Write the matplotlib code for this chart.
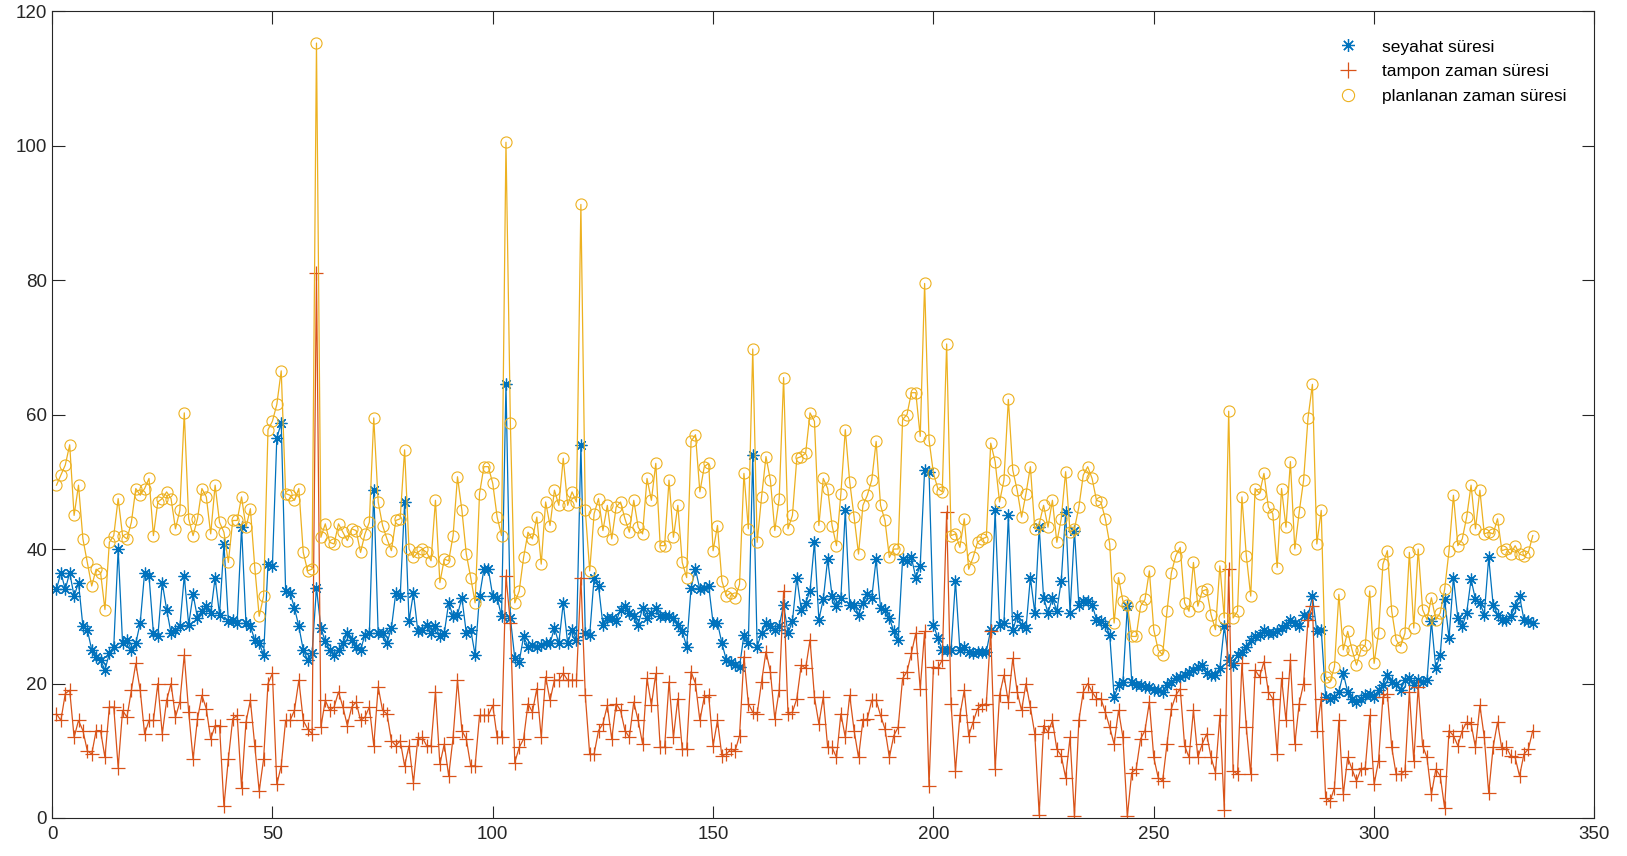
"""
Travel time, buffer time and planned time per trip, drawn as three marked lines
"""
# IMPORTS
import numpy as np
import matplotlib
matplotlib.use("Agg")
import matplotlib.pyplot as plt


# VARIABLES
series_labels = ["seyahat süresi", "tampon zaman süresi", "planlanan zaman süresi"]

# seyahat süresi (travel time), trips 1..336
travel_time = [
    34, 36.5, 34, 36.5, 33, 35, 28.5, 28, 25, 24, 23.5, 22, 24.5, 25.5, 40, 26, 26.5, 25, 26, 29,
    36.5, 36, 27.5, 27, 35, 31, 27.5, 28,
    28.5, 36, 28.75, 33.25, 29.75, 30.75, 31.5, 30.5, 35.75, 30.25, 40.75, 29.25, 29.5, 29, 43.25,
    29, 28.5, 26.5, 26, 24.25, 37.75, 37.5, 56.5, 58.75, 33.75, 33.5, 31.25, 28.5,
    25, 23.5, 24.5, 34.25, 28.25, 26.25, 25, 24.25, 25, 26, 27.5, 26.5, 25.5, 25, 27.25, 27.5,
    48.75, 27.5, 27.5, 26, 28.25, 33.5, 33, 47, 29.25, 33.5, 27.75, 28,
    28.75, 27.5, 28.5, 27, 27.5, 32, 30, 30.25, 32.75, 27.5, 28, 24.25, 33, 37, 37, 33, 32.75, 30,
    64.5, 29.75, 23.75, 23.25, 27, 25.5, 25.75, 25.5, 25.75, 26,
    26, 28.25, 26, 32, 26, 28, 26.5, 55.5, 27.5, 27.25, 35.75, 34.5, 28.75, 29.75, 29.75, 29.25,
    31, 31.5, 30.5, 30, 28.75, 31.25, 29.75, 30.5, 31.25, 30, 30, 30,
    29.75, 28.75, 27.75, 25.5, 34.25, 37, 34, 34.25, 34.5, 29, 29, 26, 23.5, 23.25, 22.75, 22.5,
    27.25, 26, 54, 25.5, 27.5, 29, 28.5, 28, 28.5, 31.75, 27.5, 29.25, 35.75,
    31, 32, 33.75, 41, 29.5, 32.5, 38.5, 33, 31.5, 32.75, 45.75, 31.75, 31.75, 30.25, 32, 33.25,
    32.75, 38.5, 31.25, 31, 29.75, 27.75, 26.5, 38.5, 38.25, 38.75, 35.75, 37.5,
    51.75, 51.5, 28.75, 26.75, 25, 25, 25, 35.25, 25, 25.5, 24.75, 24.5, 24.75, 24.75, 24.75, 28,
    45.75, 28.75, 29, 45, 28, 30, 28.75, 28.25, 35.75, 30.5, 43.25, 32.75,
    30.5, 32.75, 30.75, 35.25, 45.5, 30.5, 42.75, 31.75, 32.25, 32.25, 31.75, 29.5, 29.25, 28.75,
    27.25, 18, 19.75, 20.25, 31.5, 20.25, 19.75, 19.75, 19.5, 19.5, 19, 19, 18.75,
    19.75, 20.25, 20.75, 21, 21.25, 21.75, 22, 22.5, 22.75, 21.5, 21.25, 21.25, 22.25, 28.5, 23.5,
    22.75, 24.25, 24.75, 25.5, 26.5, 27, 27.25, 28, 27.5, 27.5, 27.75, 28.25, 28.75, 29.5,
    29, 28.5, 30.25, 30, 33, 27.75, 28, 18, 17.75, 18, 18.75, 21.5, 18.75, 17.75, 17.25, 17.75,
    18.25, 18.5, 18, 19, 19.75, 21.25, 20.25, 20, 19, 20.5, 20.75, 19.75,
    20.5, 20.25, 20.5, 29.25, 22.25, 24.25, 32.5, 26.75, 35.75, 29.75, 28.5, 30.5, 35.5, 32.5, 32,
    30.25, 38.75, 31.75, 30.25, 29.5, 29.5, 30, 31.5, 33, 29.5, 29.25, 29,
]

# tampon zaman süresi (buffer time)
buffer_time = [
    15.5, 14.5, 18.5, 19, 12, 14.5, 13, 10, 9.5, 13, 13, 9, 16.5, 16.5, 7.5, 16, 15, 19, 23, 19,
    12.5, 14.5, 14.5, 20, 12.5, 17.5, 20, 15,
    17.25, 24.25, 15.75, 8.75, 14.75, 18.25, 16.25, 11.75, 13.75, 13.75, 1.75, 8.75, 14.75, 15.25,
    4.5, 14.25, 17.5, 10.75, 4, 8.75, 20, 21.5, 5, 7.75, 14.5, 14.5, 16, 20.5,
    14.5, 13.25, 12.5, 81, 13.5, 17.5, 16, 16.5, 18.75, 16.5, 13.75, 16.5, 17.25, 14.5, 15, 16.5,
    10.75, 19.5, 16, 15.5, 11.5, 10.75, 11.5, 7.75, 10.75, 5.25, 11.75, 12,
    10.75, 10.75, 18.75, 8, 11, 6.25, 12, 20.5, 13, 11.75, 7.75, 7.75, 15.25, 15.25, 15.25, 16.75,
    12, 12, 36, 29, 8.25, 10.5, 11.75, 17, 15.75, 19.25, 12, 21,
    17.5, 20.5, 20.5, 21.5, 20.5, 20.5, 20.5, 35.75, 18.25, 9.5, 9.5, 13, 14, 16.75, 11.75, 17,
    16, 13, 12, 17.25, 14.5, 11, 20.75, 16.75, 21.5, 10.5, 10.5, 20.25,
    12, 17.75, 10.25, 10.25, 21.75, 20, 14.5, 18, 18.25, 10.75, 14.5, 9.25, 9.5, 10.25, 10, 12.25,
    24, 17, 15.75, 15.5, 20.25, 24.75, 21.75, 14.75, 19, 33.75, 15.5, 15.75, 17.75,
    22.75, 22.25, 26.5, 18, 14, 18, 10.5, 10.5, 9, 15.5, 12, 18.25, 13, 9, 14.5, 14.75, 17.5, 17.5,
    15.25, 13.25, 9, 12.25, 13.5, 20.75, 21.75, 24.5, 27.5, 19.25,
    27.75, 4.75, 22.5, 22.25, 23.5, 45.5, 17, 7, 15.25, 19, 12.25, 14.25, 16.25, 16.75, 17, 27.75,
    7.25, 18.25, 21.25, 17.25, 23.75, 18.75, 16, 20, 16.5, 12.5, 0.5, 13.75,
    12.75, 14.5, 10.25, 9.25, 6, 12, 0.25, 14.5, 18.75, 20, 18.75, 17.75, 17.75, 15.75, 13.5, 11,
    16, 12, 0.25, 6.75, 7.25, 11.75, 13, 17.25, 9, 6, 5.5,
    11, 16.25, 18.25, 19.25, 10.75, 9, 16, 9, 11, 12.5, 9, 6.75, 15.25, 1.25, 37, 7, 6.5, 23, 13.5,
    6.5, 22, 21, 23.25, 18.75, 17.75, 9.5, 20.75, 14.5, 23.5,
    11, 17, 20, 29.5, 31.5, 13, 17.75, 3, 2.5, 4.5, 14.5, 3.5, 9, 7.25, 5.5, 7.25, 7.5, 15.25, 5,
    8.5, 18, 18.5, 10.5, 6.5, 6.5, 7, 18.75, 8.5,
    19.5, 10.75, 9, 3.5, 7.25, 6.25, 1.5, 13, 12.25, 10.75, 13, 14.25, 14, 10.5, 16.75, 12, 3.75,
    10.5, 14.25, 10.25, 10.5, 9.25, 9, 6.25, 9.5, 10.25, 13,
]

# planlanan zaman süresi (planned time)
planned_time = [
    49.5, 51, 52.5, 55.5, 45, 49.5, 41.5, 38, 34.5, 37, 36.5, 31, 41, 42, 47.5, 42, 41.5, 44, 49, 48,
    49, 50.5, 42, 47, 47.5, 48.5, 47.5, 43,
    45.75, 60.25, 44.5, 42, 44.5, 49, 47.75, 42.25, 49.5, 44, 42.5, 38, 44.25, 44.25, 47.75, 43.25,
    46, 37.25, 30, 33, 57.75, 59, 61.5, 66.5, 48.25, 48, 47.25, 49,
    39.5, 36.75, 37, 115.25, 41.75, 43.75, 41, 40.75, 43.75, 42.5, 41.25, 43, 42.75, 39.5, 42.25,
    44, 59.5, 47, 43.5, 41.5, 39.75, 44.25, 44.5, 54.75, 40, 38.75, 39.5, 40,
    39.5, 38.25, 47.25, 35, 38.5, 38.25, 42, 50.75, 45.75, 39.25, 35.75, 32, 48.25, 52.25, 52.25,
    49.75, 44.75, 42, 100.5, 58.75, 32, 33.75, 38.75, 42.5, 41.5, 44.75, 37.75, 47,
    43.5, 48.75, 46.5, 53.5, 46.5, 48.5, 47, 91.25, 45.75, 36.75, 45.25, 47.5, 42.75, 46.5, 41.5,
    46.25, 47, 44.5, 42.5, 47.25, 43.25, 42.25, 50.5, 47.25, 52.75, 40.5, 40.5, 50.25,
    41.75, 46.5, 38, 35.75, 56, 57, 48.5, 52.25, 52.75, 39.75, 43.5, 35.25, 33, 33.5, 32.75, 34.75,
    51.25, 43, 69.75, 41, 47.75, 53.75, 50.25, 42.75, 47.5, 65.5, 43, 45, 53.5,
    53.75, 54.25, 60.25, 59, 43.5, 50.5, 49, 43.5, 40.5, 48.25, 57.75, 50, 44.75, 39.25, 46.5, 48,
    50.25, 56, 46.5, 44.25, 38.75, 40, 40, 59.25, 60, 63.25, 63.25, 56.75,
    79.5, 56.25, 51.25, 49, 48.5, 70.5, 42, 42.25, 40.25, 44.5, 37, 38.75, 41, 41.5, 41.75, 55.75,
    53, 47, 50.25, 62.25, 51.75, 48.75, 44.75, 48.25, 52.25, 43, 43.75, 46.5,
    43.25, 47.25, 41, 44.5, 51.5, 42.5, 43, 46.25, 51, 52.25, 50.5, 47.25, 47, 44.5, 40.75, 29,
    35.75, 32.25, 31.75, 27, 27, 31.5, 32.5, 36.75, 28, 25, 24.25,
    30.75, 36.5, 39, 40.25, 32, 30.75, 38, 31.5, 33.75, 34, 30.25, 28, 37.5, 29.75, 60.5, 29.75,
    30.75, 47.75, 39, 33, 49, 48.25, 51.25, 46.25, 45.25, 37.25, 49, 43.25, 53,
    40, 45.5, 50.25, 59.5, 64.5, 40.75, 45.75, 21, 20.25, 22.5, 33.25, 25, 27.75, 25, 22.75, 25,
    25.75, 33.75, 23, 27.5, 37.75, 39.75, 30.75, 26.5, 25.5, 27.5, 39.5, 28.25,
    40, 31, 29.5, 32.75, 29.5, 30.5, 34, 39.75, 48, 40.5, 41.5, 44.75, 49.5, 43, 48.75, 42.25, 42.5,
    42.25, 44.5, 39.75, 40, 39.25, 40.5, 39.25, 39, 39.5, 42,
]

x_ticks = [0, 50, 100, 150, 200, 250, 300, 350]
y_ticks = [0, 20, 40, 60, 80, 100, 120]


# FUNCTIONS
def plot_times(travel, buffer, planned, labels):
    """
    Draw the three time series the way a default MATLAB plot looks.

    Parameters
    ----------
    travel : list
        Travel time per trip.
    buffer : list
        Buffer time per trip.
    planned : list
        Planned time per trip.
    labels : list
        Legend entries.

    Returns
    -------
    fig : matplotlib.figure.Figure
    """
    plt.rcParams["font.family"] = ["Liberation Sans", "DejaVu Sans"]

    fig = plt.figure(figsize=(16.27, 8.56), dpi=100)
    ax = fig.add_axes([0.032, 0.0444, 0.948, 0.9426])

    trips = np.arange(1, len(travel) + 1)

    # MATLAB default colour order, '*' there is an eight spoke asterisk
    asterisk = (8, 2, 0)
    ax.plot(trips, travel, "-", marker=asterisk, color="#0072BD", lw=0.9, ms=8.5, mew=0.9,
            label=labels[0])
    ax.plot(trips, buffer, "-+", color="#D95319", lw=0.9, ms=10, mew=0.9, label=labels[1])
    ax.plot(trips, planned, "-o", color="#EDB120", lw=0.9, ms=8, mew=0.8,
            mfc="none", label=labels[2])

    ax.set_xlim(0, 350)
    ax.set_ylim(0, 120)
    ax.set_xticks(x_ticks)
    ax.set_yticks(y_ticks)

    ax.tick_params(direction="in", length=9, width=0.8, colors="#262626",
                   labelsize=13.5, top=True, right=True)
    ax.tick_params(axis="x", pad=6)
    for spine in ax.spines.values():
        spine.set_color("#262626")
        spine.set_linewidth(0.8)

    leg = ax.legend(loc="upper right", bbox_to_anchor=(0.99, 0.98), frameon=False,
                    fontsize=12.5, handlelength=2.4, labelspacing=0.55, borderaxespad=0.3,
                    markerscale=1.1)
    for handle in leg.legend_handles:
        handle.set_linestyle("none")

    return fig


# EXECUTION
figure = plot_times(travel_time, buffer_time, planned_time, series_labels)
figure.savefig("out.png", dpi=100)

# END OF FILE
